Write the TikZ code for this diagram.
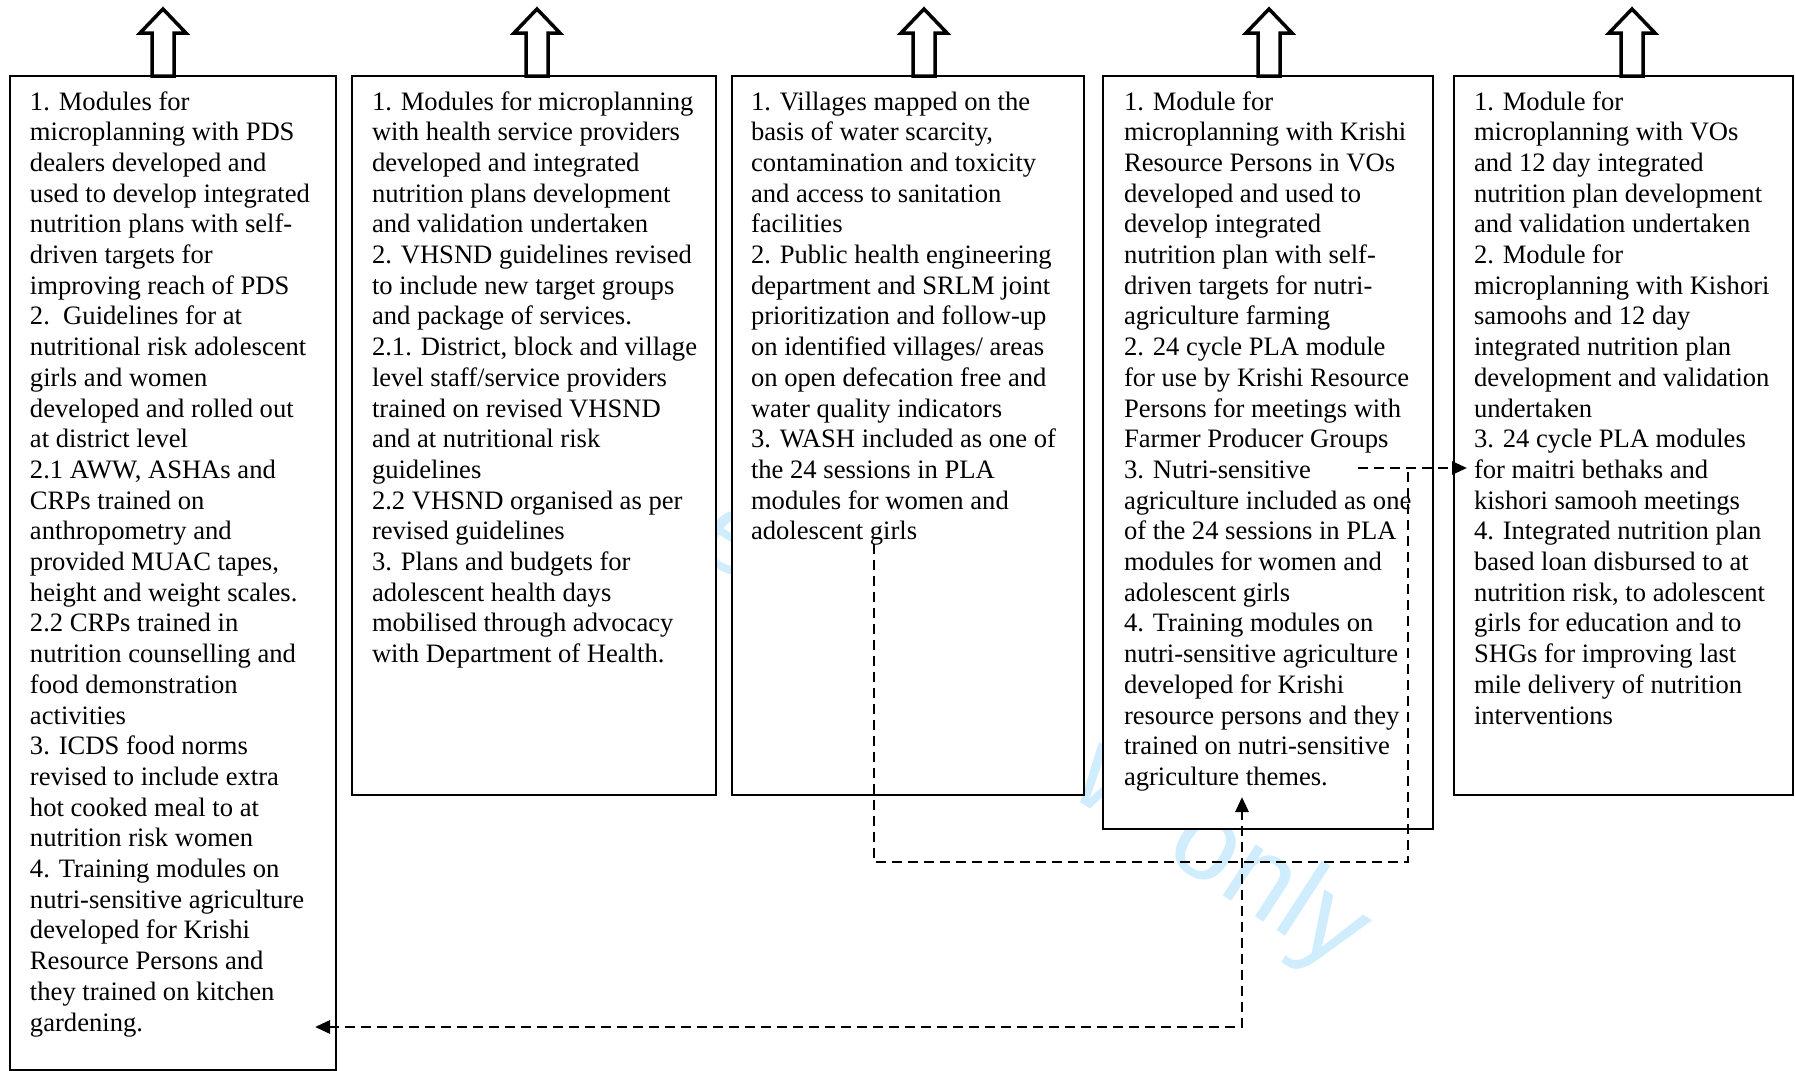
\documentclass[tikz,border=0pt]{standalone}
\usepackage{fontspec}
\setmainfont{Liberation Serif}
\newfontfamily\wmfont{Liberation Sans}
\usetikzlibrary{arrows.meta}
\definecolor{wmblue}{RGB}{207,237,252}
\begin{document}
\begin{tikzpicture}[x=0.5pt,y=-0.5pt,
  box/.style={draw, line width=1.35pt, fill=white, inner sep=0pt, outer sep=0pt, anchor=north west},
  txt/.style={inner sep=0pt, outer sep=0pt, anchor=north west, align=left, font=\fontsize{13.3pt}{15.35pt}\selectfont},
  blockarrow/.style={draw, line width=1.75pt, fill=white, line join=miter, miter limit=10},
  dashline/.style={line width=1.45pt, dash pattern=on 5pt off 3pt},
  tipend/.style={-{Triangle[length=7.5pt,width=6.5pt]}},
  tipboth/.style={{Triangle[length=7.5pt,width=6.5pt]}-{Triangle[length=7.5pt,width=6.5pt]}}
]
\useasboundingbox (0,0) rectangle (1796,1071);
\fill[white] (0,0) rectangle (1796,1071);
% watermark
\node[text=wmblue, font=\wmfont\fontsize{57.5pt}{60pt}\selectfont, anchor=base west, rotate=-33, inner sep=0pt] (wm) at (466,404) {For peer review only};
% boxes
\node[box, minimum width=163pt, minimum height=497pt] (b1) at (10,76) {};
\node[box, minimum width=182pt, minimum height=359.5pt] (b2) at (352,76) {};
\node[box, minimum width=176pt, minimum height=359.5pt] (b3) at (732,76) {};
\node[box, minimum width=165pt, minimum height=376.5pt] (b4) at (1103,76) {};
\node[box, minimum width=169.5pt, minimum height=359.5pt] (b5) at (1454,76) {};
% block arrows
\foreach \cx in {163,537,924,1269,1632}{
  \draw[blockarrow] (\cx,9) -- (\cx+23,33) -- (\cx+11,33) -- (\cx+11,76) -- (\cx-11,76) -- (\cx-11,33) -- (\cx-23,33) -- cycle;
}
% texts
\node[txt] (t1) at (30,90) {\rule{0pt}{10pt}1. Modules for\\
microplanning with PDS\\
dealers developed and\\
used to develop integrated\\
nutrition plans with self-\\
driven targets for\\
improving reach of PDS\\
2.\ \ Guidelines for at\\
nutritional risk adolescent\\
girls and women\\
developed and rolled out\\
at district level\\
2.1 AWW, ASHAs and\\
CRPs trained on\\
anthropometry and\\
provided MUAC tapes,\\
height and weight scales.\\
2.2 CRPs trained in\\
nutrition counselling and\\
food demonstration\\
activities\\
3. ICDS food norms\\
revised to include extra\\
hot cooked meal to at\\
nutrition risk women\\
4. Training modules on\\
nutri-sensitive agriculture\\
developed for Krishi\\
Resource Persons and\\
they trained on kitchen\\
gardening.};
\node[txt] (t2) at (372,90) {\rule{0pt}{10pt}1. Modules for microplanning\\
with health service providers\\
developed and integrated\\
nutrition plans development\\
and validation undertaken\\
2. VHSND guidelines revised\\
to include new target groups\\
and package of services.\\
2.1. District, block and village\\
level staff/service providers\\
trained on revised VHSND\\
and at nutritional risk\\
guidelines\\
2.2 VHSND organised as per\\
revised guidelines\\
3. Plans and budgets for\\
adolescent health days\\
mobilised through advocacy\\
with Department of Health.};
\node[txt] (t3) at (751,90) {\rule{0pt}{10pt}1. Villages mapped on the\\
basis of water scarcity,\\
contamination and toxicity\\
and access to sanitation\\
facilities\\
2. Public health engineering\\
department and SRLM joint\\
prioritization and follow-up\\
on identified villages/ areas\\
on open defecation free and\\
water quality indicators\\
3. WASH included as one of\\
the 24 sessions in PLA\\
modules for women and\\
adolescent girls};
\node[txt] (t4) at (1124,90) {\rule{0pt}{10pt}1. Module for\\
microplanning with Krishi\\
Resource Persons in VOs\\
developed and used to\\
develop integrated\\
nutrition plan with self-\\
driven targets for nutri-\\
agriculture farming\\
2. 24 cycle PLA module\\
for use by Krishi Resource\\
Persons for meetings with\\
Farmer Producer Groups\\
3. Nutri-sensitive\\
agriculture included as one\\
of the 24 sessions in PLA\\
modules for women and\\
adolescent girls\\
4. Training modules on\\
nutri-sensitive agriculture\\
developed for Krishi\\
resource persons and they\\
trained on nutri-sensitive\\
agriculture themes.};
\node[txt] (t5) at (1474,90) {\rule{0pt}{10pt}1. Module for\\
microplanning with VOs\\
and 12 day integrated\\
nutrition plan development\\
and validation undertaken\\
2. Module for\\
microplanning with Kishori\\
samoohs and 12 day\\
integrated nutrition plan\\
development and validation\\
undertaken\\
3. 24 cycle PLA modules\\
for maitri bethaks and\\
kishori samooh meetings\\
4. Integrated nutrition plan\\
based loan disbursed to at\\
nutrition risk, to adolescent\\
girls for education and to\\
SHGs for improving last\\
mile delivery of nutrition\\
interventions};
% connector end points
\coordinate (c3) at (874,544);
\coordinate (c4a) at (1358,468);
\coordinate (c5) at (1467,468);
\coordinate (jn) at (1408,468);
\coordinate (c4b) at (1242,797);
\coordinate (c1) at (315,1027);
\draw[dashline] (c3) |- (jn |- 0,862) -- (jn);
\draw[dashline, tipend] (c4a) -- (c5);
\draw[dashline, tipboth] (c1) -| (c4b);
\end{tikzpicture}
\end{document}
